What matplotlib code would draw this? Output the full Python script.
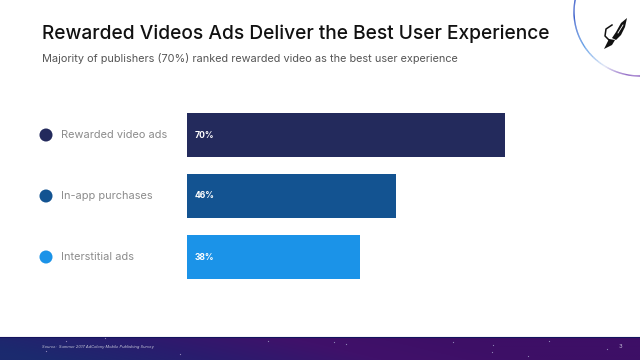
import numpy as np
import matplotlib.pyplot as plt
from matplotlib.collections import LineCollection
from matplotlib.colors import LinearSegmentedColormap
from matplotlib.patches import Polygon

plt.rcParams['font.family'] = ['Inter', 'DejaVu Sans']

categories = ['Rewarded video ads', 'In-app purchases', 'Interstitial ads']
values = [70, 46, 38]
colors = ['#232a5c', '#135391', '#1b93e8']
star_x = [46, 66, 105, 180, 268, 334, 346, 453, 492, 493, 528, 549, 607]
star_y = [351, 341, 338, 354, 341, 342, 344, 342, 352, 345, 356, 341, 349]

fig = plt.figure(figsize=(6.4, 3.6), dpi=100, facecolor='white')

# full slide overlay in pixel coordinates
bg = fig.add_axes([0, 0, 1, 1])
bg.set_xlim(0, 640)
bg.set_ylim(360, 0)
bg.axis('off')

# footer gradient
footer_cmap = LinearSegmentedColormap.from_list('footer', ['#1b2a6e', '#2a1c6e', '#40116a', '#3d0f66'])
xx, yy = np.meshgrid(np.linspace(0, 1, 320), np.linspace(0, 1, 24))
bg.imshow(np.clip(xx * 1.25 - yy * 0.18 + 0.1, 0, 1), extent=[0, 640, 360, 337], cmap=footer_cmap,
          aspect='auto', vmin=0, vmax=1, zorder=1)
bg.set_xlim(0, 640)
bg.set_ylim(360, 0)
bg.plot([0, 640], [337, 337], color='#14145e', lw=0.8, zorder=2)
bg.scatter(star_x, star_y, s=0.8, color='#8f86b8', linewidths=0, zorder=2)
bg.text(42, 347.3, 'Source:  Summer 2017 AdColony Mobile Publishing Survey', fontsize=2.9, style='italic',
        color='#c9c9dc', va='center', zorder=3)
bg.text(620, 346, '3', fontsize=4.2, color='#c9c4dc', ha='center', va='center', zorder=3)

# titles
bg.text(42, 34, 'Rewarded Videos Ads Deliver the Best User Experience', fontsize=13.8, color='#111111',
        va='center', fontweight='medium')
bg.text(42, 58, 'Majority of publishers (70%) ranked rewarded video as the best user experience', fontsize=7.87,
        color='#555555', va='center')

# corner circle, bottom end first
t = np.linspace(np.pi * 0.5, np.pi * 1.55, 200)
cx, cy = 640, 12
px = cx + 66 * np.cos(t)
py = cy + 64 * np.sin(t)
pts = np.column_stack([px, py])
segs = np.stack([pts[:-1], pts[1:]], axis=1)
arc_cmap = LinearSegmentedColormap.from_list('arc', [(0, '#8a5cc0'), (0.1, '#9a78cc'), (0.17, '#dfe6f6'),
                                                     (0.3, '#5a9ae6'), (0.45, '#2f55c8'), (1, '#2f55c8')])
arc = LineCollection(segs, cmap=arc_cmap, linewidths=1.0, zorder=3)
arc.set_array(np.linspace(0, 1, len(segs)))
bg.add_collection(arc)

# rocket
bg.add_patch(Polygon([(627, 18), (621, 23), (616, 32), (612, 38), (616, 40), (621, 35), (625, 27)],
                     closed=True, fc='#111111', ec='none', zorder=4))
bg.add_patch(Polygon([(604, 49), (609, 39), (615, 40), (612, 45)], closed=True, fc='#111111', ec='none', zorder=4))
bg.plot([612, 606, 605, 610], [25, 29, 36, 41], color='#111111', lw=1.1, zorder=4)
bg.plot([623, 618], [25, 33], color='white', lw=0.6, zorder=5)

# legend labels and dots
label_y = [135, 196, 257]
bg.scatter([46] * 3, label_y, s=88, c=colors, linewidths=0, zorder=3)
for lab, y in zip(categories, label_y):
    bg.text(61, y, lab, fontsize=7.9, color='#8b8b8b', va='center')

# bars
ax = fig.add_axes([187 / 640, (360 - 279) / 360, (505 - 187) / 640, (279 - 113) / 360])
ax.patch.set_alpha(0)
ypos = np.arange(len(values))
ax.barh(ypos, values, height=44 / 61, color=colors)
ax.set_xlim(0, 70)
ax.set_ylim(2 + 22 / 61, -22 / 61)
ax.axis('off')
for y, v in zip(ypos, values):
    ax.text(1.6, y, f'{v}%', color='white', fontsize=6.2, fontweight='bold', va='center')

fig.savefig('out.png', dpi=100, facecolor='white')
